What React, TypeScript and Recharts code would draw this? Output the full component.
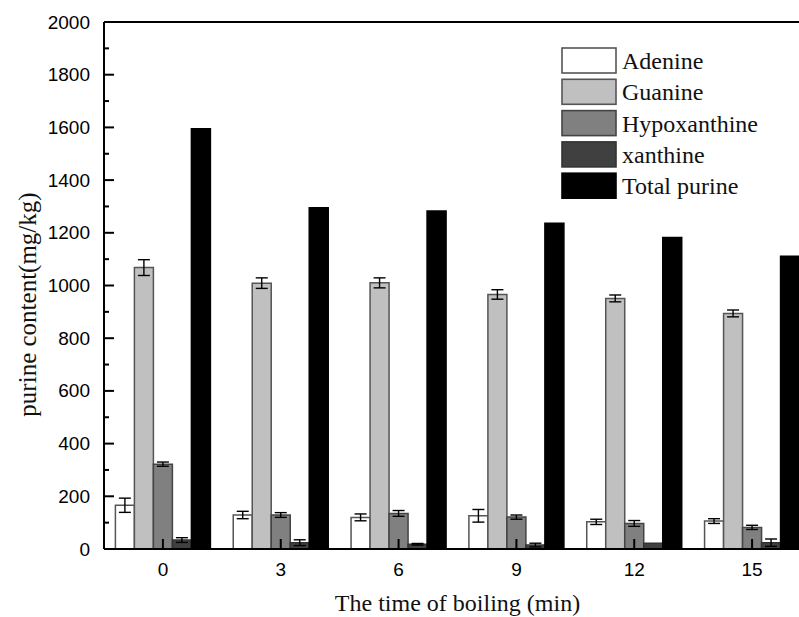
import React from 'react';
import { BarChart, Bar, XAxis, YAxis, ErrorBar, ReferenceLine, Legend } from 'recharts';

// ---- data ----
const times = ['0', '3', '6', '9', '12', '15'];
const adenine = [166, 129, 120, 126, 103, 106];
const adenineErr = [27, 14, 13, 24, 10, 9];
const guanine = [1068, 1009, 1010, 966, 951, 894];
const guanineErr = [30, 20, 19, 18, 13, 13];
const hypoxanthine = [322, 129, 135, 121, 97, 82];
const hypoxanthineErr = [8, 9, 11, 8, 11, 8];
const xanthine = [34, 24, 18, 15, 22, 24];
const xanthineErr = [9, 11, 3, 7, 0, 14];
const totalPurine = [1595, 1295, 1283, 1236, 1182, 1111];
const yTicks = [0, 100, 200, 300, 400, 500, 600, 700, 800, 900, 1000, 1100, 1200, 1300, 1400, 1500, 1600, 1700, 1800, 1900, 2000];
const majorTickStep = 200;

const data = times.map((t, i) => ({
  time: t,
  adenine: adenine[i],
  adenineErr: adenineErr[i],
  guanine: guanine[i],
  guanineErr: guanineErr[i],
  hypoxanthine: hypoxanthine[i],
  hypoxanthineErr: hypoxanthineErr[i],
  xanthine: xanthine[i],
  xanthineErr: xanthineErr[i],
  total: totalPurine[i],
}));

const series = [
  { key: 'adenine', name: 'Adenine', fill: '#ffffff', stroke: '#555555', err: 'adenineErr' },
  { key: 'guanine', name: 'Guanine', fill: '#c0c0c0', stroke: '#555555', err: 'guanineErr' },
  { key: 'hypoxanthine', name: 'Hypoxanthine', fill: '#808080', stroke: '#444444', err: 'hypoxanthineErr' },
  { key: 'xanthine', name: 'xanthine', fill: '#404040', stroke: '#333333', err: 'xanthineErr' },
  { key: 'total', name: 'Total purine', fill: '#000000', stroke: '#000000', err: null as string | null },
];

const SANS = '"Liberation Sans", Arial, sans-serif';
const SERIF = '"Liberation Serif", "Times New Roman", serif';
const Y_TICK_MARGIN = 14;
const X_TICK_MARGIN = 14;

const YTick = (props: any) => {
  const { x, y, payload } = props;
  const v = payload.value;
  const major = v % majorTickStep === 0;
  const ax = x + Y_TICK_MARGIN;
  return (
    <g>
      <line x1={ax} x2={ax + (major ? 10 : 5)} y1={y} y2={y} stroke="#000" strokeWidth={2} />
      {major && (
        <text x={x} y={y} textAnchor="end" dominantBaseline="central" fontSize={19} fontFamily={SANS} fill="#000">
          {v}
        </text>
      )}
    </g>
  );
};

const XTick = (props: any) => {
  const { x, y, payload } = props;
  const ay = y - X_TICK_MARGIN;
  return (
    <g>
      <line x1={x} x2={x} y1={ay} y2={ay - 10} stroke="#000" strokeWidth={2} />
      <text x={x} y={y} dy="0.71em" textAnchor="middle" fontSize={19} fontFamily={SANS} fill="#000">
        {payload.value}
      </text>
    </g>
  );
};

const renderLegend = (props: any) => {
  const payload = props.payload || [];
  const ordered = series
    .map((s) => ({ s, entry: payload.find((e: any) => e.dataKey === s.key) }))
    .filter((d) => d.entry);
  return (
    <svg width={230} height={160} style={{ display: 'block' }}>
      {ordered.map(({ s, entry }: any, i: number) => {
        const top = 1 + i * 31.3;
        return (
          <g key={s.key}>
            <rect x={1} y={top} width={54} height={25} fill={entry.color} stroke={s.stroke} strokeWidth={1.6} />
            <text x={61} y={top + 13} dominantBaseline="central" fontSize={24} fontFamily={SERIF} fill="#111">
              {entry.value}
            </text>
          </g>
        );
      })}
    </svg>
  );
};

const YLabel = (props: any) => {
  const vb = props.viewBox;
  const cx = vb.x + 27;
  const cy = vb.y + vb.height / 2 + 19;
  return (
    <text
      transform={`translate(${cx}, ${cy}) rotate(-90)`}
      textAnchor="middle"
      dominantBaseline="central"
      fontSize={25}
      fontFamily={SERIF}
      fill="#111"
    >
      purine content(mg/kg)
    </text>
  );
};

export default function App() {
  return (
    <div
      style={{
        position: 'absolute',
        left: 0,
        top: 0,
        width: 799,
        height: 617,
        overflow: 'hidden',
        background: '#ffffff',
      }}
    >
      <BarChart
        width={816}
        height={617}
        data={data}
        margin={{ top: 22, right: 5, left: 0, bottom: 0 }}
        barCategoryGap={11.4}
        barGap={0}
      >
        {series.map((s) => (
          <Bar
            key={s.key}
            dataKey={s.key}
            name={s.name}
            fill={s.fill}
            stroke={s.stroke}
            strokeWidth={1.5}
            isAnimationActive={false}
          >
            {s.err && <ErrorBar dataKey={s.err} width={6} stroke="#000" strokeWidth={1.4} direction="y" />}
          </Bar>
        ))}
        <ReferenceLine y={2000} stroke="#000" strokeWidth={2} />
        <YAxis
          type="number"
          domain={[0, 2000]}
          ticks={yTicks}
          interval={0}
          width={104}
          tickSize={0}
          tickMargin={Y_TICK_MARGIN}
          tickLine={false}
          axisLine={{ stroke: '#000', strokeWidth: 2 }}
          tick={<YTick />}
          label={{ content: <YLabel /> }}
        />
        <XAxis
          dataKey="time"
          type="category"
          height={68}
          interval={0}
          tickSize={0}
          tickMargin={X_TICK_MARGIN}
          tickLine={false}
          axisLine={{ stroke: '#000', strokeWidth: 2 }}
          tick={<XTick />}
          label={{
            value: 'The time of boiling (min)',
            position: 'insideBottom',
            offset: 6,
            fontSize: 24,
            fontFamily: SERIF,
            fill: '#111',
          }}
        />
        <Legend
          layout="vertical"
          align="center"
          verticalAlign="middle"
          itemSorter={null as any}
          content={renderLegend}
          wrapperStyle={{ left: 561, top: 47, width: 230, height: 160 }}
        />
      </BarChart>
    </div>
  );
}
